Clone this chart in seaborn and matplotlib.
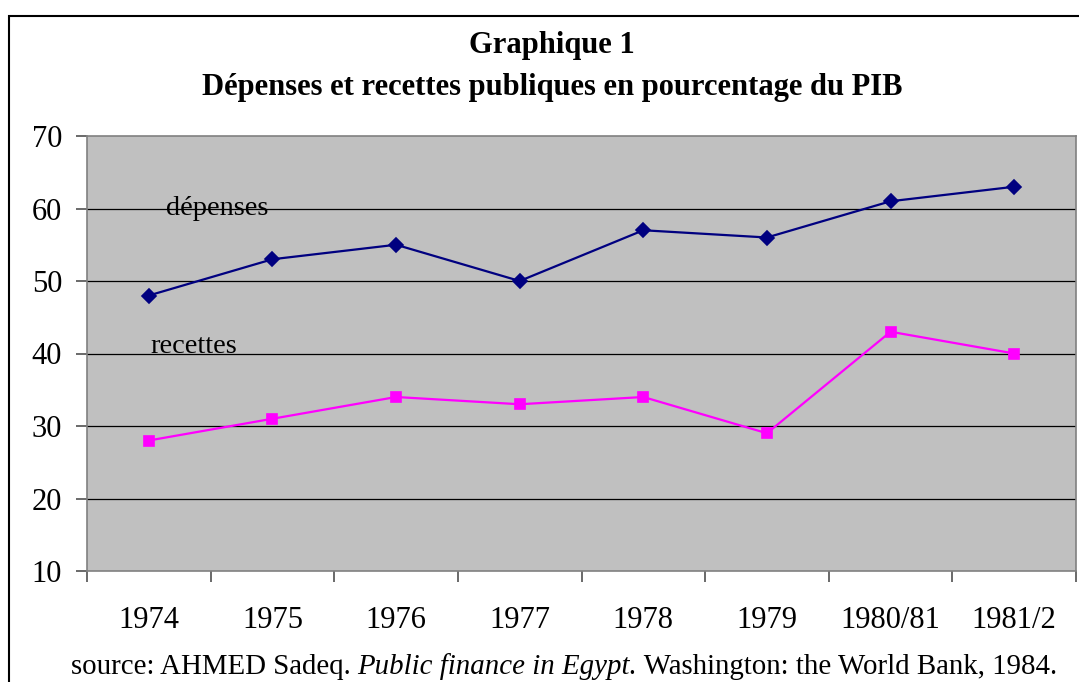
import numpy as np
import pandas as pd
import matplotlib
matplotlib.use("Agg")
import matplotlib.pyplot as plt
from matplotlib.patches import Rectangle
import seaborn as sns

# ---- data ----
years = ["1974", "1975", "1976", "1977", "1978", "1979", "1980/81", "1981/2"]
depenses = [48, 53, 55, 50, 57, 56, 61, 63]
recettes = [28, 31, 34, 33, 34, 29, 43, 40]
y_ticks = [10, 20, 30, 40, 50, 60, 70]

sns.set_style("white")
plt.rcParams["font.family"] = ["Liberation Serif", "DejaVu Serif"]
plt.rcParams["text.color"] = "black"
plt.rcParams["xtick.color"] = "black"
plt.rcParams["ytick.color"] = "black"

fig = plt.figure(figsize=(10.79, 6.82), dpi=100)
ax = fig.add_axes([87 / 1079, 111 / 682, 989 / 1079, 435 / 682])
ax.set_facecolor("#C0C0C0")

sns.pointplot(x=years, y=depenses, color="#000080", marker="D", markersize=7,
              linewidth=1.6, ax=ax)
sns.pointplot(x=years, y=recettes, color="#FF00FF", marker="s", markersize=7,
              linewidth=1.6, ax=ax)

# grid lines at the major y ticks
for v in y_ticks[1:-1]:
    ax.axhline(v, color="black", linewidth=0.9, zorder=0)

ax.set_ylim(10, 70)
ax.set_yticks(y_ticks)
ax.set_xlim(-0.5, len(years) - 0.5)
ax.set_xticks(np.arange(len(years) + 1) - 0.5)
ax.set_xticklabels([])
ax.set_xticks(np.arange(len(years)), minor=True)
ax.set_xticklabels(years, minor=True)
ax.tick_params(axis="x", which="major", bottom=True, length=8, width=1.2,
               color="#505050", direction="out")
ax.tick_params(axis="x", which="minor", bottom=True, length=0, pad=25,
               labelsize=22, labelcolor="black")
ax.tick_params(axis="y", left=True, length=8, width=1.2, color="#505050",
               direction="out", labelsize=22, pad=10, labelcolor="black")
ax.set_xlabel("")
ax.set_ylabel("")

for side in ["left", "right", "top", "bottom"]:
    ax.spines[side].set_visible(True)
    ax.spines[side].set_color("#808080")
    ax.spines[side].set_linewidth(1.2)

ax.text(0.14, 60, "dépenses", fontsize=20.4, va="center", ha="left", color="black")
ax.text(0.01, 41, "recettes", fontsize=20.4, va="center", ha="left", color="black")

fig.text(552 / 1079, 1 - 46 / 682, "Graphique 1", ha="center", va="center",
         fontsize=22, fontweight="bold")
fig.text(552 / 1079, 1 - 87 / 682, "Dépenses et recettes publiques en pourcentage du PIB",
         ha="center", va="center", fontsize=22, fontweight="bold")

# source line, drawn piece by piece so the book title is italic
src = [("source: AHMED Sadeq. ", "normal"), ("Public finance in Egypt.", "italic"),
       (" Washington: the World Bank, 1984.", "normal")]
renderer = fig.canvas.get_renderer()
pieces = []
total = 0
for txt, st in src:
    t = fig.text(0, 0, txt, fontsize=20.8, style=st, va="center")
    w = t.get_window_extent(renderer).width
    pieces.append((t, w))
    total += w
x0 = 564 - total / 2
for t, w in pieces:
    t.set_position((x0 / 1079, 1 - 667 / 682))
    x0 += w

# outer chart frame (runs off the right and bottom edge)
fig.patches.append(Rectangle((9 / 1079, -0.1), 2, 1.1 - 16 / 682,
                             transform=fig.transFigure, fill=False,
                             edgecolor="black", linewidth=1.5, figure=fig))

fig.savefig("out.png", dpi=100)
